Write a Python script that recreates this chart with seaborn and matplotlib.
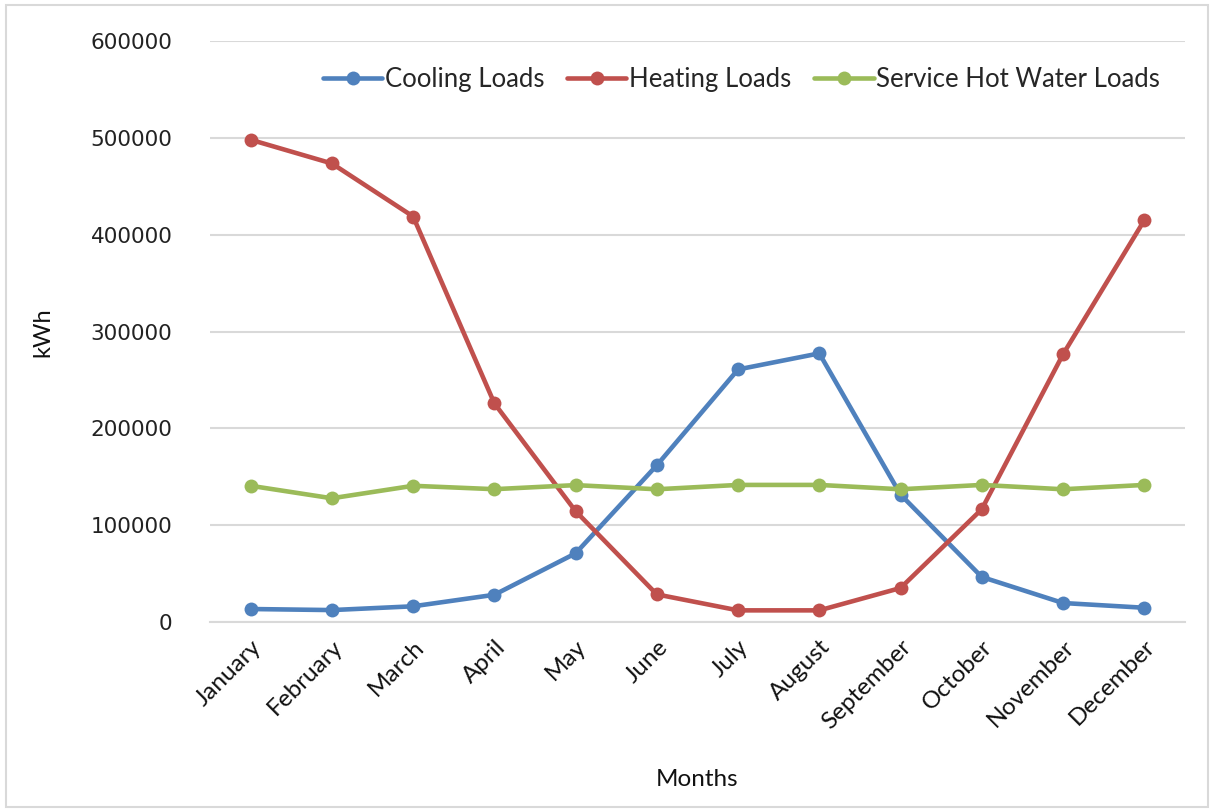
import numpy as np
import pandas as pd
import matplotlib
matplotlib.use('Agg')
import matplotlib.pyplot as plt
from matplotlib.lines import Line2D
from matplotlib.patches import Rectangle
import seaborn as sns

# data (kWh)
months = ['January', 'February', 'March', 'April', 'May', 'June', 'July',
          'August', 'September', 'October', 'November', 'December']
cooling = [13500, 12400, 16300, 28200, 71000, 162000, 261000, 277600, 131700, 46600, 19700, 14800]
heating = [498300, 473800, 419000, 226000, 114600, 28600, 12100, 12100, 35200, 116600, 276600, 415000]
hot_water = [140800, 127900, 140800, 137300, 141500, 137200, 141700, 141700, 137200, 141700, 137200, 141700]
series_names = ['Cooling Loads', 'Heating Loads', 'Service Hot Water Loads']
colors = ['#4F81BD', '#C0504D', '#9BBB59']

df = pd.DataFrame({
    'Month': months * 3,
    'kWh': cooling + heating + hot_water,
    'Series': np.repeat(series_names, len(months)),
})

sns.set_theme(style='white')
plt.rcParams['font.family'] = ['Lato', 'DejaVu Sans']

fig = plt.figure(figsize=(12.14, 8.10), dpi=100)
ax = fig.add_axes([0.173, 0.232, 0.803, 0.717])

sns.lineplot(data=df, x='Month', y='kWh', hue='Series', palette=colors,
             marker='o', markersize=10, markeredgewidth=0, linewidth=3.3,
             sort=False, legend=False, ax=ax)

ax.set_xlim(-0.5, len(months) - 0.5)
ax.set_ylim(0, 600000)
ax.set_yticks(np.arange(0, 600001, 100000))
ax.set_yticklabels([str(v) for v in range(0, 600001, 100000)],
                   fontsize=15.5, family='DejaVu Sans', color='#222222')
ax.set_xticks(range(len(months)))
ax.set_xticklabels(months, rotation=45, ha='right', rotation_mode='anchor',
                   fontsize=17.5, color='#111111')
ax.tick_params(axis='x', length=0, pad=10)
ax.tick_params(axis='y', length=0, pad=27)
ax.set_xticks(np.arange(-0.5, len(months)), minor=True)
ax.tick_params(axis='x', which='minor', length=10, width=1.3, color='#D9D9D9', direction='out')

ax.yaxis.grid(True, color='#D9D9D9', linewidth=1.5)
ax.set_axisbelow(True)
for side in ['top', 'right', 'left']:
    ax.spines[side].set_visible(False)
ax.spines['bottom'].set_color('#D9D9D9')
ax.spines['bottom'].set_linewidth(1.5)

ax.set_xlabel('Months', fontsize=17.5, labelpad=26, color='#111111')
ax.set_ylabel('kWh', fontsize=17, labelpad=27, color='#111111')

handles = [Line2D([0], [0], color=c, lw=3.3, marker='o', markersize=10, markeredgewidth=0)
           for c in colors]
ax.legend(handles, series_names, loc='center right', bbox_to_anchor=(0.985, 0.934),
          ncol=3, frameon=False, fontsize=18.5, handlelength=2.3, handletextpad=0.1,
          columnspacing=0.9, borderaxespad=0)

fig.patches.append(Rectangle((0.005, 0.004), 0.99, 0.99, transform=fig.transFigure,
                             fill=False, edgecolor='#D9D9D9', linewidth=1.5))

fig.savefig('out.png', dpi=100)
